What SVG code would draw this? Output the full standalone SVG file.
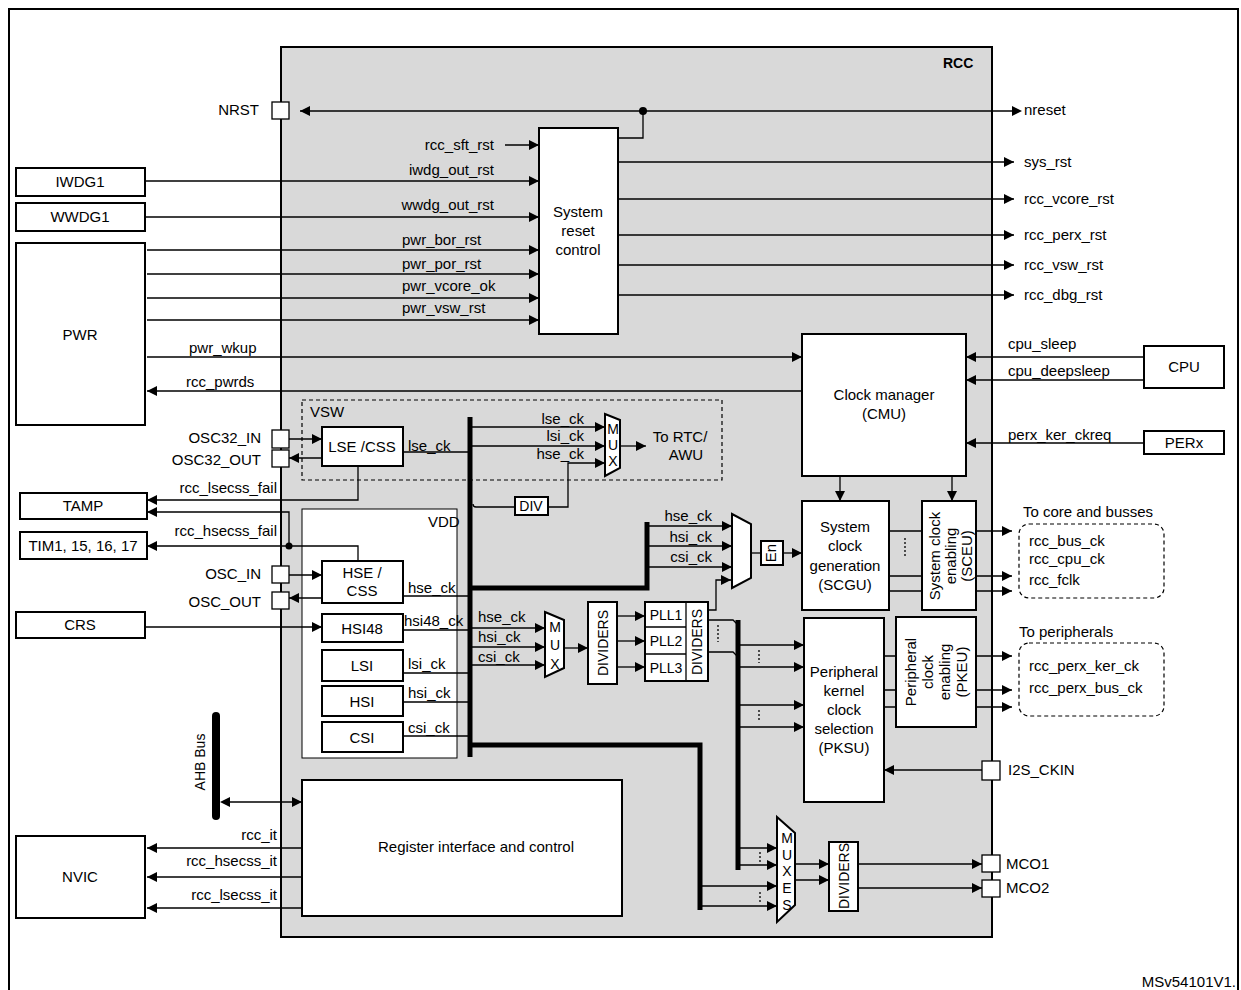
<svg xmlns="http://www.w3.org/2000/svg" width="1241" height="990" viewBox="0 0 1241 990">
<defs>
<marker id="a" viewBox="0 0 10 10" refX="10" refY="5" markerWidth="10" markerHeight="10" markerUnits="userSpaceOnUse" orient="auto"><path d="M0,0L10,5L0,10z" fill="#000"/></marker>
<marker id="as" viewBox="0 0 10 10" refX="0" refY="5" markerWidth="10" markerHeight="10" markerUnits="userSpaceOnUse" orient="auto-start-reverse"><path d="M0,0L10,5L0,10z" fill="#000"/></marker>
<style>
text{font-family:"Liberation Sans",Arial,sans-serif;font-size:15px;fill:#000}
.s{font-size:14px}
.m{text-anchor:middle}
.e{text-anchor:end}
.b{fill:#fff;stroke:#000;stroke-width:2}
.l{fill:none;stroke:#000;stroke-width:1.3}
.ar{fill:none;stroke:#000;stroke-width:1.3;marker-end:url(#a)}
.bus{fill:none;stroke:#000;stroke-width:5}
.d{fill:none;stroke:#000;stroke-width:1.2;stroke-dasharray:4 3}
.dot{stroke:#000;stroke-width:1.3;stroke-dasharray:2 2;fill:none}
</style>
</defs>
<rect width="1241" height="990" fill="#fff"/>
<path d="M9,990V9H1238V990" fill="none" stroke="#000" stroke-width="2"/>
<g id="rcc"><rect x="281" y="47" width="711" height="890" fill="#d9d9d9" stroke="#000" stroke-width="2"/><text x="943" y="68" font-weight="bold" class="s">RCC</text></g>
<g id="vsw"><rect x="302" y="400" width="420" height="80" fill="#fff" class="d"/><text x="310" y="417">VSW</text></g>
<g id="vdd"><rect x="302" y="509" width="155" height="249" fill="#fff" stroke="#000" stroke-width="1"/><text x="428" y="527">VDD</text></g>

<g id="ext">
<g id="iwdg1"><rect x="16" y="168" width="129" height="28" class="b"/><text x="80" y="187" class="m">IWDG1</text></g>
<g id="wwdg1"><rect x="16" y="203" width="129" height="28" class="b"/><text x="80" y="222" class="m">WWDG1</text></g>
<g id="pwr"><rect x="16" y="243" width="129" height="182" class="b"/><text x="80" y="340" class="m">PWR</text></g>
<g id="tamp"><rect x="20" y="493" width="127" height="26" class="b"/><text x="83" y="511" class="m">TAMP</text></g>
<g id="tim"><rect x="20" y="532" width="127" height="27" class="b"/><text x="83" y="551" class="m">TIM1, 15, 16, 17</text></g>
<g id="crs"><rect x="16" y="612" width="129" height="26" class="b"/><text x="80" y="630" class="m">CRS</text></g>
<g id="nvic"><rect x="16" y="836" width="129" height="82" class="b"/><text x="80" y="882" class="m">NVIC</text></g>
<g id="cpu"><rect x="1144" y="346" width="80" height="42" class="b"/><text x="1184" y="372" class="m">CPU</text></g>
<g id="perx"><rect x="1144" y="431" width="80" height="23" class="b"/><text x="1184" y="448" class="m">PERx</text></g>
</g>

<g id="pads" fill="#fff" stroke="#000" stroke-width="1.3">
<rect x="272" y="102" width="17" height="17"/>
<rect x="272" y="430" width="17" height="18"/>
<rect x="272" y="450" width="17" height="17"/>
<rect x="272" y="566" width="17" height="17"/>
<rect x="272" y="592" width="17" height="17"/>
<rect x="982" y="761" width="18" height="19"/>
<rect x="982" y="855" width="18" height="17"/>
<rect x="982" y="880" width="18" height="17"/>
</g>
<g id="padlabels">
<text x="259" y="115" class="e">NRST</text>
<text x="261" y="443" class="e">OSC32_IN</text>
<text x="261" y="465" class="e">OSC32_OUT</text>
<text x="261" y="579" class="e">OSC_IN</text>
<text x="261" y="607" class="e">OSC_OUT</text>
<text x="1008" y="775">I2S_CKIN</text>
<text x="1006" y="869">MCO1</text>
<text x="1006" y="893">MCO2</text>
</g>

<g id="src"><rect x="539" y="128" width="79" height="206" class="b"/><text x="578" y="217" class="m">System</text><text x="578" y="236" class="m">reset</text><text x="578" y="255" class="m">control</text></g>
<g id="cmu"><rect x="802" y="334" width="164" height="142" class="b"/><text x="884" y="400" class="m">Clock manager</text><text x="884" y="419" class="m">(CMU)</text></g>
<g id="scgu"><rect x="802" y="501" width="87" height="109" class="b"/><text x="845" y="532" class="m">System</text><text x="845" y="551" class="m">clock</text><text x="845" y="571" class="m">generation</text><text x="845" y="590" class="m">(SCGU)</text></g>
<g id="sceu"><rect x="922" y="501" width="54" height="109" class="b"/><g transform="translate(949,556) rotate(-90)"><text x="0" y="-9" class="m">System clock</text><text x="0" y="7" class="m">enabling</text><text x="0" y="23" class="m">(SCEU)</text></g></g>
<g id="pksu"><rect x="804" y="618" width="80" height="184" class="b"/><text x="844" y="677" class="m">Peripheral</text><text x="844" y="696" class="m">kernel</text><text x="844" y="715" class="m">clock</text><text x="844" y="734" class="m">selection</text><text x="844" y="753" class="m">(PKSU)</text></g>
<g id="pkeu"><rect x="896" y="617" width="80" height="110" class="b"/><g transform="translate(936,672) rotate(-90)"><text x="0" y="-20" class="m">Peripheral</text><text x="0" y="-3" class="m">clock</text><text x="0" y="14" class="m">enabling</text><text x="0" y="31" class="m">(PKEU)</text></g></g>
<g id="lse"><rect x="322" y="427" width="81" height="39" class="b"/><text x="362" y="452" class="m">LSE /CSS</text></g>
<g id="hse"><rect x="322" y="561" width="81" height="42" class="b"/><text x="362" y="578" class="m">HSE /</text><text x="362" y="596" class="m">CSS</text></g>
<g id="hsi48"><rect x="322" y="614" width="81" height="28" class="b"/><text x="362" y="634" class="m">HSI48</text></g>
<g id="lsi"><rect x="322" y="650" width="81" height="31" class="b"/><text x="362" y="671" class="m">LSI</text></g>
<g id="hsi"><rect x="322" y="686" width="81" height="30" class="b"/><text x="362" y="707" class="m">HSI</text></g>
<g id="csi"><rect x="322" y="722" width="81" height="30" class="b"/><text x="362" y="743" class="m">CSI</text></g>
<g id="mux1"><path d="M605,414L620,420V468L605,476z" class="b"/><text x="613" y="434" class="m s">M</text><text x="613" y="450" class="m s">U</text><text x="613" y="466" class="m s">X</text></g>
<g id="div"><rect x="515" y="497" width="33" height="18" class="b" stroke-width="1.5"/><text x="531" y="511" class="m s">DIV</text></g>
<g id="mux2"><path d="M545,612L564,620V668L545,677z" class="b"/><text x="555" y="632" class="m s">M</text><text x="555" y="650" class="m s">U</text><text x="555" y="669" class="m s">X</text></g>
<g id="dividers1"><rect x="588" y="602" width="29" height="82" class="b"/><text transform="translate(608,643) rotate(-90)" class="m s">DIVIDERS</text></g>
<g id="pll"><rect x="645" y="602" width="63" height="79" class="b"/><path d="M645,627H686M645,654H686M686,602V681" class="l" stroke-width="2"/><text x="666" y="620" class="m s">PLL1</text><text x="666" y="646" class="m s">PLL2</text><text x="666" y="673" class="m s">PLL3</text><text transform="translate(702,642) rotate(-90)" class="m s">DIVIDERS</text></g>
<g id="mux3"><path d="M732,514L751,524V578L732,588z" class="b"/></g>
<g id="en"><rect x="761" y="541" width="22" height="24" class="b" stroke-width="1.5"/><text transform="translate(776,553) rotate(-90)" class="m" font-size="12">En</text></g>
<g id="muxes"><path d="M777,817L795,833V905L777,922z" class="b"/><text x="787" y="843" class="m s">M</text><text x="787" y="860" class="m s">U</text><text x="787" y="876" class="m s">X</text><text x="787" y="893" class="m s">E</text><text x="787" y="910" class="m s">S</text></g>
<g id="dividers2"><rect x="829" y="842" width="29" height="69" class="b"/><text transform="translate(849,876) rotate(-90)" class="m s">DIVIDERS</text></g>
<g id="reg"><rect x="302" y="780" width="320" height="136" class="b"/><text x="476" y="852" class="m">Register interface and control</text></g>
<g id="core"><rect x="1019" y="524" width="145" height="74" rx="10" class="d" fill="#fff"/><text x="1023" y="517">To core and busses</text><text x="1029" y="546">rcc_bus_ck</text><text x="1029" y="564">rcc_cpu_ck</text><text x="1029" y="585">rcc_fclk</text></g>
<g id="periph"><rect x="1019" y="643" width="145" height="73" rx="10" class="d" fill="#fff"/><text x="1019" y="637">To peripherals</text><text x="1029" y="671">rcc_perx_ker_ck</text><text x="1029" y="693">rcc_perx_bus_ck</text></g>
<g id="ahb"><line x1="216" y1="716" x2="216" y2="816" stroke="#000" stroke-width="8" stroke-linecap="round"/><text transform="translate(205,762) rotate(-90)" class="m s">AHB Bus</text></g>

<g id="connectors">
<path d="M1012,111H300" class="ar" style="marker-start:url(#as)"/>
<path d="M618,138H643V111" class="l"/><circle cx="643" cy="111" r="4"/>
<path d="M505,145H539" class="ar"/>
<path d="M145,181H539" class="ar"/>
<path d="M145,217H539" class="ar"/>
<path d="M147,250H539" class="ar"/>
<path d="M147,274H539" class="ar"/>
<path d="M147,298H539" class="ar"/>
<path d="M147,320H539" class="ar"/>
<path d="M618,162H1014" class="ar"/>
<path d="M618,199H1014" class="ar"/>
<path d="M618,235H1014" class="ar"/>
<path d="M618,265H1014" class="ar"/>
<path d="M618,295H1014" class="ar"/>
<path d="M147,357H802" class="ar"/>
<path d="M802,391H147" class="ar"/>
<path d="M1144,357H966" class="ar"/>
<path d="M1144,380H966" class="ar"/>
<path d="M1144,443H966" class="ar"/>
<path d="M840,476V501" class="ar"/>
<path d="M952,476V501" class="ar"/>
<path d="M289,439H322" class="ar"/><path d="M322,458H289" class="ar"/>
<path d="M289,575H322" class="ar"/><path d="M322,598H289" class="ar"/>
<path d="M145,627H322" class="ar"/>
<path d="M358,466V500H147" class="ar"/>
<path d="M289,546V512H147" class="ar"/>
<path d="M358,561V546H147" class="ar"/><circle cx="289" cy="546" r="3.5"/>
<path d="M403,452H470M403,596H470M403,630H470M403,673H470M403,702H470M403,736H470" class="l"/>
<path d="M470,427H605" class="ar"/>
<path d="M470,446H605" class="ar"/>
<path d="M473,504Q473,507 476,507H515" class="l"/>
<path d="M548,507H568V463H605" class="ar"/>
<path d="M620,446H646" class="ar"/>
<path d="M470,628H545" class="ar"/>
<path d="M470,647H545" class="ar"/>
<path d="M470,665H545" class="ar"/>
<path d="M564,648H588" class="ar"/>
<path d="M617,616H645" class="ar"/>
<path d="M617,641H645" class="ar"/>
<path d="M617,667H645" class="ar"/>
<path d="M647,526H732" class="ar"/>
<path d="M647,546H732" class="ar"/>
<path d="M647,567H732" class="ar"/>
<path d="M708,610H716V580H731" class="ar"/>
<path d="M708,620H733L738,625M708,652H733L738,657" class="l"/>
<path d="M751,553H761" class="l"/><path d="M783,553H802" class="ar"/>
<path d="M889,531H922M889,576H922M889,591H922" class="l"/>
<path d="M976,531H1012" class="ar"/>
<path d="M976,576H1012" class="ar"/>
<path d="M976,591H1012" class="ar"/>
<path d="M738,645H804" class="ar"/>
<path d="M738,667H804" class="ar"/>
<path d="M738,705H804" class="ar"/>
<path d="M738,727H804" class="ar"/>
<path d="M884,656H896M884,690H896M884,707H896" class="l"/>
<path d="M976,656H1012" class="ar"/>
<path d="M976,690H1012" class="ar"/>
<path d="M976,707H1012" class="ar"/>
<path d="M982,770H884" class="ar"/>
<path d="M738,848H777" class="ar"/>
<path d="M738,865H777" class="ar"/>
<path d="M700,886H777" class="ar"/>
<path d="M700,906H777" class="ar"/>
<path d="M795,864H829" class="ar"/>
<path d="M795,880H829" class="ar"/>
<path d="M858,864H982" class="ar"/>
<path d="M858,888H982" class="ar"/>
<path d="M230,802H302" class="ar" style="marker-start:url(#as)"/>
<path d="M302,848H147" class="ar"/>
<path d="M302,877H147" class="ar"/>
<path d="M302,908H147" class="ar"/>
<path d="M470,417V757M470,588H647V522M470,745H700V910M738,620V870" class="bus"/>
<path d="M718,625V642M759,650V663M759,710V722M760,852V862M760,892V902M905,538V556" class="dot"/>
</g>

<g id="labels">
<text x="494" y="150" class="e">rcc_sft_rst</text>
<text x="494" y="175" class="e">iwdg_out_rst</text>
<text x="494" y="210" class="e">wwdg_out_rst</text>
<text x="402" y="245">pwr_bor_rst</text>
<text x="402" y="269">pwr_por_rst</text>
<text x="402" y="291">pwr_vcore_ok</text>
<text x="402" y="313">pwr_vsw_rst</text>
<text x="189" y="353">pwr_wkup</text>
<text x="186" y="387">rcc_pwrds</text>
<text x="1024" y="115">nreset</text>
<text x="1024" y="167">sys_rst</text>
<text x="1024" y="204">rcc_vcore_rst</text>
<text x="1024" y="240">rcc_perx_rst</text>
<text x="1024" y="270">rcc_vsw_rst</text>
<text x="1024" y="300">rcc_dbg_rst</text>
<text x="1008" y="349">cpu_sleep</text>
<text x="1008" y="376">cpu_deepsleep</text>
<text x="1008" y="440">perx_ker_ckreq</text>
<text x="277" y="493" class="e">rcc_lsecss_fail</text>
<text x="277" y="536" class="e">rcc_hsecss_fail</text>
<text x="408" y="451">lse_ck</text>
<text x="584" y="424" class="e">lse_ck</text>
<text x="584" y="441" class="e">lsi_ck</text>
<text x="584" y="459" class="e">hse_ck</text>
<text x="680" y="442" class="m">To RTC/</text>
<text x="686" y="460" class="m">AWU</text>
<text x="408" y="593">hse_ck</text>
<text x="404" y="626">hsi48_ck</text>
<text x="408" y="669">lsi_ck</text>
<text x="408" y="698">hsi_ck</text>
<text x="408" y="733">csi_ck</text>
<text x="478" y="622">hse_ck</text>
<text x="478" y="642">hsi_ck</text>
<text x="478" y="662">csi_ck</text>
<text x="712" y="521" class="e">hse_ck</text>
<text x="712" y="542" class="e">hsi_ck</text>
<text x="712" y="562" class="e">csi_ck</text>
<text x="277" y="840" class="e">rcc_it</text>
<text x="277" y="866" class="e">rcc_hsecss_it</text>
<text x="277" y="900" class="e">rcc_lsecss_it</text>
<text x="1236" y="987" class="e" font-size="13">MSv54101V1.</text>
</g>
</svg>
